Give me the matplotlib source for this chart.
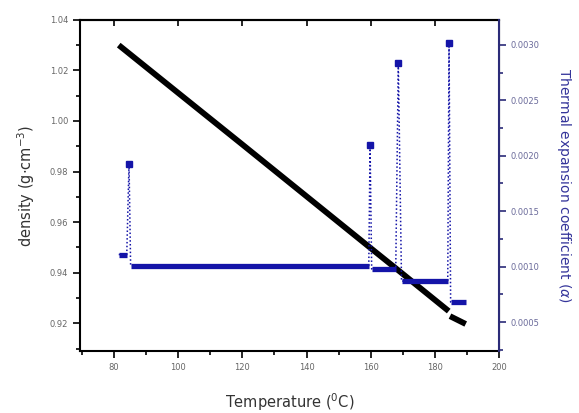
import numpy as np
import matplotlib
matplotlib.use('Agg')
import matplotlib.pyplot as plt
from matplotlib.ticker import MultipleLocator, FormatStrFormatter

# density (left axis)
temp_rho = [81.5, 100, 120, 140, 160, 170, 184.3]
rho = [1.0300, 1.0111, 0.9907, 0.9702, 0.9497, 0.9395, 0.9248]
temp_rho2 = [184.7, 189.6]
rho2 = [0.9228, 0.9197]

# thermal expansion coefficient (right axis): plateaus and spikes
plat_start = [81.5, 85.2, 160.3, 169.6, 184.9]
plat_end = [84.0, 159.4, 167.8, 184.0, 189.6]
plat_val = [0.00111, 0.00101, 0.00098, 0.00087, 0.00068]
spike_T = [84.7, 159.8, 168.6, 184.4]
spike_val = [0.00193, 0.00210, 0.00284, 0.00302]

navy = '#2b2b78'
blue = '#1414a8'

# connected series in Origin style (dotted line through every point)
T_a, a = [], []
for i in range(len(plat_start)):
    T_a += [plat_start[i], plat_end[i]]
    a += [plat_val[i], plat_val[i]]
    if i < len(spike_T):
        T_a.append(spike_T[i])
        a.append(spike_val[i])

plt.rcParams['font.family'] = ['DejaVu Sans']
fig = plt.figure(figsize=(5.79, 4.13), dpi=100)
ax = fig.add_axes([0.138, 0.150, 0.724, 0.802])
ax2 = ax.twinx()

ax.plot(temp_rho, rho, color='black', lw=4.2, solid_capstyle='butt', zorder=3)
ax.plot(temp_rho2, rho2, color='black', lw=4.2, solid_capstyle='butt', zorder=3)

ax2.plot(T_a, a, linestyle=(0, (1, 1.5)), color=blue, lw=1.1)
for s, e, v in zip(plat_start, plat_end, plat_val):
    ax2.plot([s, e], [v, v], color=blue, lw=3.8, solid_capstyle='butt')
ax2.plot(spike_T, spike_val, 's', color=blue, ms=4.5)

ax.set_xlim(69.4, 200)
ax.set_ylim(0.909, 1.04)
ax2.set_ylim(0.00024, 0.003225)

ax.xaxis.set_major_locator(MultipleLocator(20))
ax.xaxis.set_minor_locator(MultipleLocator(10))
ax.yaxis.set_major_locator(MultipleLocator(0.02))
ax.yaxis.set_minor_locator(MultipleLocator(0.01))
ax.yaxis.set_major_formatter(FormatStrFormatter('%.2f'))
ax2.yaxis.set_major_locator(MultipleLocator(0.0005))
ax2.yaxis.set_minor_locator(MultipleLocator(0.00025))
ax2.yaxis.set_major_formatter(FormatStrFormatter('%.4f'))

ax.tick_params(axis='both', which='both', direction='out', labelsize=6,
               labelcolor='#666666', width=1.2)
ax.tick_params(which='major', length=5)
ax.tick_params(which='minor', length=3)
# Origin-style top axis: major ticks only, pointing inward
secx = ax.secondary_xaxis('top')
secx.xaxis.set_major_locator(MultipleLocator(20))
secx.tick_params(direction='in', length=4, width=1.2, labeltop=False)
secx.spines['top'].set_linewidth(1.5)

ax2.tick_params(axis='y', which='both', direction='out', colors=navy,
                labelsize=6, width=1.2)
ax2.tick_params(which='major', length=5)
ax2.tick_params(which='minor', length=3)
for t in ax2.get_yticklabels():
    t.set_color('#6a6a9a')

for sp in ['left', 'bottom', 'top']:
    ax.spines[sp].set_linewidth(1.5)
ax2.spines['right'].set_color(navy)
ax2.spines['right'].set_linewidth(1.5)
for sp in ['left', 'bottom', 'top']:
    ax2.spines[sp].set_visible(False)

ax.set_xlabel('Temperature ($^0$C)', fontsize=10.5, color='#333333', labelpad=14)
ax.set_ylabel('density (g$\\cdot$cm$^{-3}$)', fontsize=10.5, color='#333333', labelpad=9)
ax2.set_ylabel('Thermal expansion coefficient ($\\alpha$)', fontsize=10, color='#34349a',
               rotation=-90, labelpad=24)

fig.savefig('out.png', dpi=100)
